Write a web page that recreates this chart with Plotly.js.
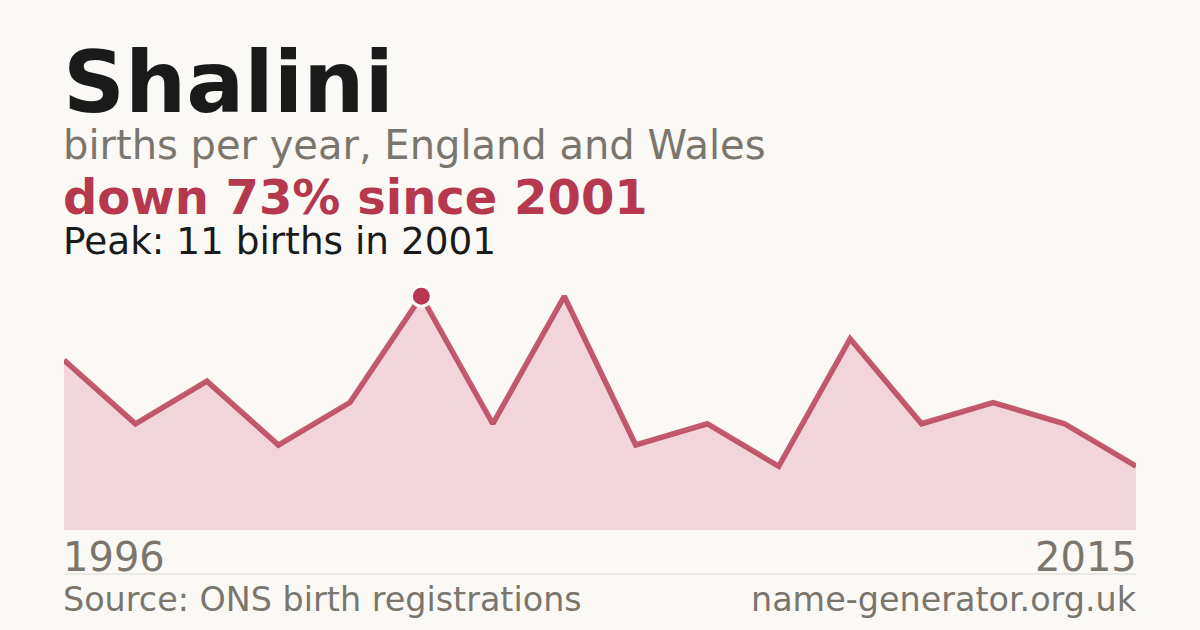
<!DOCTYPE html>
<html>
<head>
<meta charset="utf-8">
<script src="https://cdn.plot.ly/plotly-3.0.1.min.js"></script>
<style>
  html, body { margin: 0; padding: 0; background: #faf9f5; }
  #chart { width: 1200px; height: 630px; }
</style>
</head>
<body>
<div id="chart"></div>
<script>
// births per year for the name
const years  = ['1996', '1997', '1998', '1999', '2000', '2001', '2002', '2004',
                '2005', '2006', '2008', '2009', '2010', '2012', '2014', '2015'];
const births = [8, 5, 7, 4, 6, 11, 5, 11, 4, 5, 3, 9, 5, 6, 5, 3];

const peakYear = '2001';
const peakValue = 11;

const RED  = '#b5384f';
const GREY = '#7a766e';
const INK  = '#1a1a1a';
const FONT = 'DejaVu Sans, sans-serif';

// plot area sits from y=275 to y=530 px; convert page px to paper coords
const TOP = 275, BOTTOM = 530;
const py = p => (BOTTOM - p) / (BOTTOM - TOP);

function label(text, y, size, color, opts) {
    return Object.assign({
        text: text, xref: 'paper', yref: 'paper', x: 0, y: py(y),
        xanchor: 'left', yanchor: 'middle', showarrow: false,
        borderpad: 0, xshift: -2,
        font: { family: FONT, size: size, color: color }
    }, opts || {});
}

const data = [
    {
        x: years, y: births, type: 'scatter', mode: 'lines',
        line: { color: 'rgba(181,56,79,0.82)', width: 5.5, shape: 'linear' },
        fill: 'tozeroy', fillcolor: '#f2d5db',
        hoverinfo: 'skip'
    },
    {
        x: [peakYear], y: [peakValue], type: 'scatter', mode: 'markers',
        marker: { color: RED, size: 20, line: { color: '#ffffff', width: 3 } },
        hoverinfo: 'skip'
    }
];

const layout = {
    width: 1200, height: 630,
    margin: { l: 64, r: 64, t: TOP, b: 630 - BOTTOM },
    paper_bgcolor: '#faf9f5',
    plot_bgcolor: '#faf9f5',
    showlegend: false,
    xaxis: {
        type: 'category', range: [0, years.length - 1],
        showgrid: false, zeroline: false, showticklabels: false, showline: false
    },
    yaxis: {
        range: [0, 12], showgrid: false, zeroline: false,
        showticklabels: false, showline: false
    },
    shapes: [
        { type: 'line', xref: 'paper', yref: 'paper', x0: 0, x1: 1, y0: py(574), y1: py(574),
          line: { color: '#dedbd2', width: 1 } }
    ],
    annotations: [
        label('<b>Shalini</b>', 82, 86, INK),
        label('births per year, England and Wales', 145, 40, GREY),
        label('<b>down 73% since 2001</b>', 197, 48, RED),
        label('Peak: 11 births in 2001', 241, 37.4, INK),
        label(years[0], 557, 40, GREY),
        label(years[years.length - 1], 557, 40, GREY, { x: 1, xanchor: 'right', xshift: 2 }),
        label('Source: ONS birth registrations', 599, 33.4, GREY),
        label('name-generator.org.uk', 599, 33.4, GREY, { x: 1, xanchor: 'right', xshift: 2 })
    ]
};

Plotly.newPlot('chart', data, layout, { staticPlot: true, displayModeBar: false });
</script>
</body>
</html>
